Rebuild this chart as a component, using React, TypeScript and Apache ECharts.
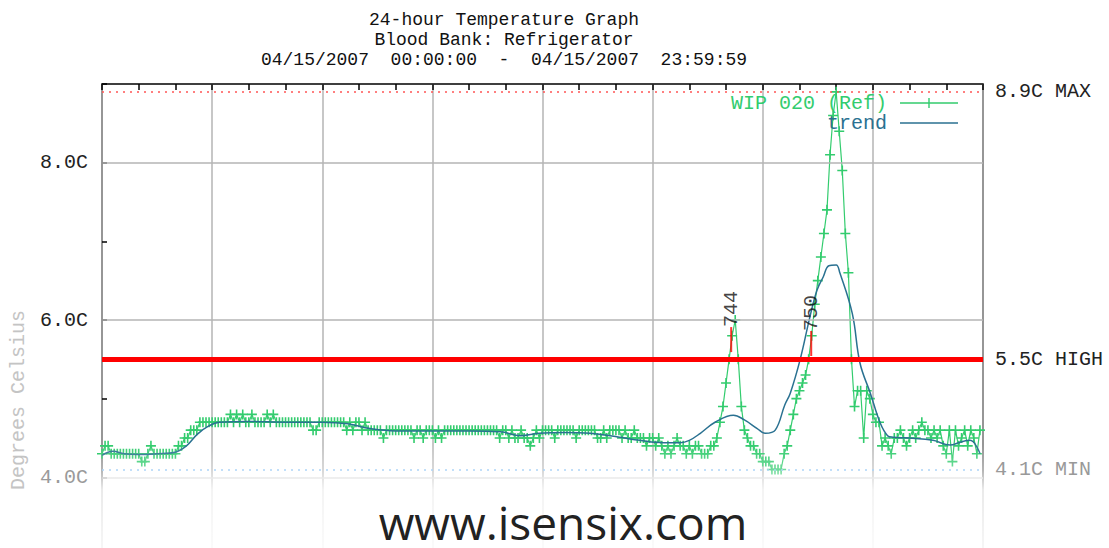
import React, { useEffect, useRef } from 'react';
import * as echarts from 'echarts';

const titleLines = [
  '24-hour Temperature Graph',
  'Blood Bank: Refrigerator',
  '04/15/2007  00:00:00  -  04/15/2007  23:59:59',
];
const yAxisTitle = 'Degrees Celsius';
const watermark = 'www.isensix.com';
const rawSeriesName = 'WIP 020 (Ref)';
const trendSeriesName = 'trend';
const sampleMinutes = 5;

// 5-minute readings, one row per hour
const rawValues = [
  4.3, 4.4, 4.4, 4.3, 4.3, 4.3, 4.3, 4.3, 4.3, 4.3, 4.3, 4.3,
  4.3, 4.2, 4.2, 4.3, 4.4, 4.3, 4.3, 4.3, 4.3, 4.3, 4.3, 4.3,
  4.3, 4.4, 4.4, 4.5, 4.5, 4.6, 4.6, 4.6, 4.7, 4.7, 4.7, 4.7,
  4.7, 4.7, 4.7, 4.7, 4.7, 4.7, 4.8, 4.7, 4.8, 4.7, 4.8, 4.7,
  4.7, 4.8, 4.7, 4.7, 4.7, 4.7, 4.8, 4.7, 4.8, 4.7, 4.7, 4.7,
  4.7, 4.7, 4.7, 4.7, 4.7, 4.7, 4.7, 4.7, 4.7, 4.6, 4.6, 4.7,
  4.7, 4.7, 4.7, 4.7, 4.7, 4.7, 4.7, 4.7, 4.6, 4.7, 4.6, 4.7,
  4.7, 4.6, 4.7, 4.6, 4.6, 4.6, 4.6, 4.6, 4.5, 4.6, 4.6, 4.6,
  4.6, 4.6, 4.6, 4.6, 4.6, 4.6, 4.5, 4.6, 4.6, 4.5, 4.6, 4.6,
  4.6, 4.5, 4.6, 4.5, 4.6, 4.6, 4.6, 4.6, 4.6, 4.6, 4.6, 4.6,
  4.6, 4.6, 4.6, 4.6, 4.6, 4.6, 4.6, 4.6, 4.6, 4.6, 4.5, 4.6,
  4.6, 4.5, 4.6, 4.5, 4.5, 4.6, 4.5, 4.5, 4.4, 4.5, 4.6, 4.5,
  4.6, 4.6, 4.6, 4.6, 4.5, 4.6, 4.6, 4.6, 4.6, 4.6, 4.6, 4.5,
  4.6, 4.6, 4.6, 4.6, 4.6, 4.6, 4.5, 4.5, 4.6, 4.5, 4.6, 4.6,
  4.6, 4.6, 4.5, 4.6, 4.5, 4.5, 4.6, 4.5, 4.5, 4.5, 4.4, 4.5,
  4.5, 4.4, 4.5, 4.4, 4.3, 4.4, 4.3, 4.4, 4.5, 4.4, 4.4, 4.3,
  4.4, 4.3, 4.4, 4.4, 4.3, 4.3, 4.3, 4.4, 4.4, 4.5, 4.7, 4.9,
  5.2, 5.5, 5.8, 6.0, 5.5, 4.9, 4.6, 4.5, 4.4, 4.4, 4.3, 4.3,
  4.2, 4.2, 4.2, 4.1, 4.1, 4.1, 4.1, 4.3, 4.4, 4.6, 4.8, 5.0,
  5.1, 5.2, 5.3, 5.5, 5.8, 6.2, 6.5, 6.8, 7.1, 7.4, 8.1, 8.6,
  8.9, 8.4, 7.9, 7.1, 6.6, 5.5, 4.9, 5.1, 5.1, 4.5, 5.1, 5.0,
  4.8, 4.7, 4.7, 4.4, 4.5, 4.4, 4.3, 4.5, 4.5, 4.6, 4.5, 4.4,
  4.5, 4.6, 4.5, 4.6, 4.7, 4.6, 4.6, 4.5, 4.6, 4.5, 4.6, 4.4,
  4.3, 4.6, 4.2, 4.6, 4.4, 4.5, 4.6, 4.4, 4.6, 4.5, 4.3, 4.6,
];

const trendHours = [
  0, 0.3, 0.6, 1.0, 1.5, 2.0, 2.3, 2.6, 2.9, 3.2, 4.0, 5.0, 6.0, 6.7, 7.3, 8.0,
  9.0, 10.0, 10.85, 11.4, 11.9, 12.6, 13.3, 14.1, 14.65, 15.3, 15.75, 16.0, 16.3,
  16.7, 17.2, 17.5, 17.85, 18.07, 18.34, 18.6, 18.75, 19.02, 19.29, 19.48, 19.65,
  19.8, 20.0, 20.1, 20.44, 20.65, 20.93, 21.2, 21.4, 21.55, 22.0, 22.64, 23.1,
  23.4, 23.65, 23.92,
];
const trendValues = [
  4.28, 4.33, 4.3, 4.29, 4.3, 4.32, 4.4, 4.55, 4.65, 4.7, 4.71, 4.7, 4.7, 4.68,
  4.62, 4.59, 4.59, 4.59, 4.58, 4.53, 4.56, 4.57, 4.56, 4.51, 4.47, 4.44, 4.44,
  4.47, 4.56, 4.7, 4.79, 4.73, 4.62, 4.56, 4.6, 4.92, 5.07, 5.5, 6.05, 6.38,
  6.55, 6.69, 6.7, 6.6, 6.08, 5.45, 5.07, 4.69, 4.53, 4.51, 4.5, 4.47, 4.41,
  4.45, 4.47, 4.3,
];

const labeledTicks = [4, 6, 8];
const gridLineValues = [6, 8];
const baseLineValue = 4;
const limitNames = ['MAX', 'HIGH', 'MIN'];
const limitValues = [8.9, 5.5, 4.1];
const eventLabels = ['744', '750'];
const eventHours = [17.14, 19.32];
const eventValues = [5.91, 5.86];

const GREEN = '#33cc6e';
const TREND = '#2a7191';
const MONO = '"Liberation Mono", "DejaVu Sans Mono", monospace';

export default function App() {
  const ref = useRef<HTMLDivElement>(null);
  useEffect(() => {
    document.body.style.margin = '0';
    document.body.style.overflow = 'hidden';
    const chart = echarts.init(ref.current!, null, { renderer: 'svg' });
    const rawData = rawValues.map((v, i) => [(i * sampleMinutes) / 60, v]);
    const trendData = trendHours.map((h, i) => [h, trendValues[i]]);
    const eventData = eventHours.map((h, i) => [h, eventValues[i]]);
    const plus = 'path://M4.2,0h1.6v4.2h4.2v1.6h-4.2v4.2h-1.6v-4.2h-4.2v-1.6h4.2z';

    const limitStyles = [
      { color: '#ff5555', width: 1.5, type: [2, 5] },
      { color: '#ff0000', width: 5, type: 'solid' },
      { color: '#8cc4f5', width: 1.5, type: [2, 5] },
    ];
    const limitLabelColors = ['#222', '#222', '#999'];

    chart.setOption({
      animation: false,
      backgroundColor: '#fff',
      title: {
        text: titleLines.join('\n'),
        left: 499,
        textAlign: 'center',
        top: 5,
        textStyle: {
          fontFamily: MONO,
          fontSize: 18,
          fontWeight: 'normal',
          lineHeight: 20,
          color: '#111',
        },
      },
      legend: {
        orient: 'vertical',
        right: 146,
        top: 88,
        align: 'right',
        itemWidth: 58,
        itemHeight: 12,
        itemGap: 0,
        textStyle: { fontFamily: MONO, fontSize: 20, padding: [0, 8, 0, 0] },
        data: [
          {
            name: rawSeriesName,
            icon: 'path://M0,5.3h58v1.4h-58zM28.3,1h1.4v10h-1.4z',
            itemStyle: { color: GREEN },
            textStyle: { color: GREEN },
          },
          {
            name: trendSeriesName,
            icon: 'path://M0,5.3h58v1.4h-58z',
            itemStyle: { color: TREND },
            textStyle: { color: TREND },
          },
        ],
      },
      grid: {
        left: 102,
        right: 126,
        top: 84,
        bottom: 0,
        show: true,
        borderColor: '#000',
        borderWidth: 1.5,
      },
      xAxis: {
        type: 'value',
        min: 0,
        max: 24,
        interval: 3,
        position: 'top',
        axisLine: { show: false },
        axisLabel: { show: false },
        axisTick: { show: true, inside: true, length: 6, lineStyle: { color: '#000', width: 1.5 } },
        minorTick: { show: true, splitNumber: 3, length: 6, lineStyle: { color: '#000', width: 1.5 } },
        splitLine: { show: true, lineStyle: { color: '#b4b4b4', width: 1.5 } },
      },
      yAxis: {
        type: 'value',
        min: 3,
        max: 9,
        interval: 1,
        axisLine: { show: false },
        axisTick: { show: true, inside: true, length: 5, lineStyle: { color: '#000', width: 1.5 } },
        splitLine: { show: false },
        axisLabel: {
          margin: 14,
          fontFamily: MONO,
          fontSize: 20,
          formatter: (v: number) => (labeledTicks.includes(v) ? v.toFixed(1) + 'C' : ''),
          color: (v: any) => (Number(v) <= baseLineValue ? '#9a9a9a' : '#222'),
        },
      },
      graphic: [
        {
          type: 'rect',
          z: 100,
          silent: true,
          shape: { x: 100, y: 445, width: 886, height: 111 },
          style: {
            fill: new echarts.graphic.LinearGradient(0, 0, 0, 1, [
              { offset: 0, color: 'rgba(255,255,255,0)' },
              { offset: 0.23, color: 'rgba(255,255,255,0.3)' },
              { offset: 0.4, color: 'rgba(255,255,255,0.8)' },
              { offset: 1, color: 'rgba(255,255,255,0.93)' },
            ]),
          },
        },
        {
          type: 'text',
          x: 18,
          y: 400,
          rotation: Math.PI / 2,
          z: 120,
          style: {
            text: yAxisTitle,
            fontFamily: MONO,
            fontSize: 20,
            fill: '#c4c4c4',
            align: 'center',
            verticalAlign: 'middle',
          },
        },
        {
          type: 'text',
          x: 563,
          y: 522,
          z: 110,
          style: {
            text: watermark,
            fontFamily: '"Open Sans", "DejaVu Sans", sans-serif',
            fontSize: 46,
            fill: '#222',
            align: 'center',
            verticalAlign: 'middle',
          },
        },
      ],
      series: [
        {
          type: 'line',
          name: 'guides',
          data: [],
          z: 1,
          silent: true,
          markLine: {
            silent: true,
            symbol: 'none',
            animation: false,
            data: [
              ...gridLineValues.map((v) => ({
                yAxis: v,
                lineStyle: { color: '#b4b4b4', width: 1.5, type: 'solid' },
                label: { show: false },
              })),
              {
                yAxis: baseLineValue,
                lineStyle: { color: '#d4d4d4', width: 1.5, type: 'solid' },
                label: { show: false },
              },
              ...limitValues.map((v, i) => ({
                yAxis: v,
                lineStyle: limitStyles[i],
                label: {
                  show: true,
                  position: 'end',
                  distance: 12,
                  formatter: v.toFixed(1) + 'C ' + limitNames[i],
                  fontFamily: MONO,
                  fontSize: 20,
                  color: limitLabelColors[i],
                },
              })),
            ],
          },
        },
        {
          type: 'line',
          name: trendSeriesName,
          data: trendData,
          smooth: 0.4,
          symbol: 'none',
          z: 4,
          lineStyle: { color: TREND, width: 1.5 },
          itemStyle: { color: TREND },
        },
        {
          type: 'line',
          name: rawSeriesName,
          data: rawData,
          symbol: plus,
          symbolSize: 10,
          showAllSymbol: true,
          z: 3,
          lineStyle: { color: GREEN, width: 1.2 },
          itemStyle: { color: GREEN },
        },
        {
          type: 'scatter',
          name: 'events',
          data: eventData,
          symbol: 'rect',
          symbolSize: [2, 25],
          symbolOffset: [0, 12.5],
          z: 5,
          itemStyle: { color: '#ff0000' },
          label: {
            show: true,
            position: 'top',
            distance: 0,
            rotate: 90,
            align: 'left',
            verticalAlign: 'middle',
            fontFamily: MONO,
            fontSize: 20,
            color: '#111',
            formatter: (p: any) => eventLabels[p.dataIndex],
          },
        },
      ],
    });
    return () => chart.dispose();
  }, []);
  return <div ref={ref} style={{ width: 1109, height: 556 }} />;
}
